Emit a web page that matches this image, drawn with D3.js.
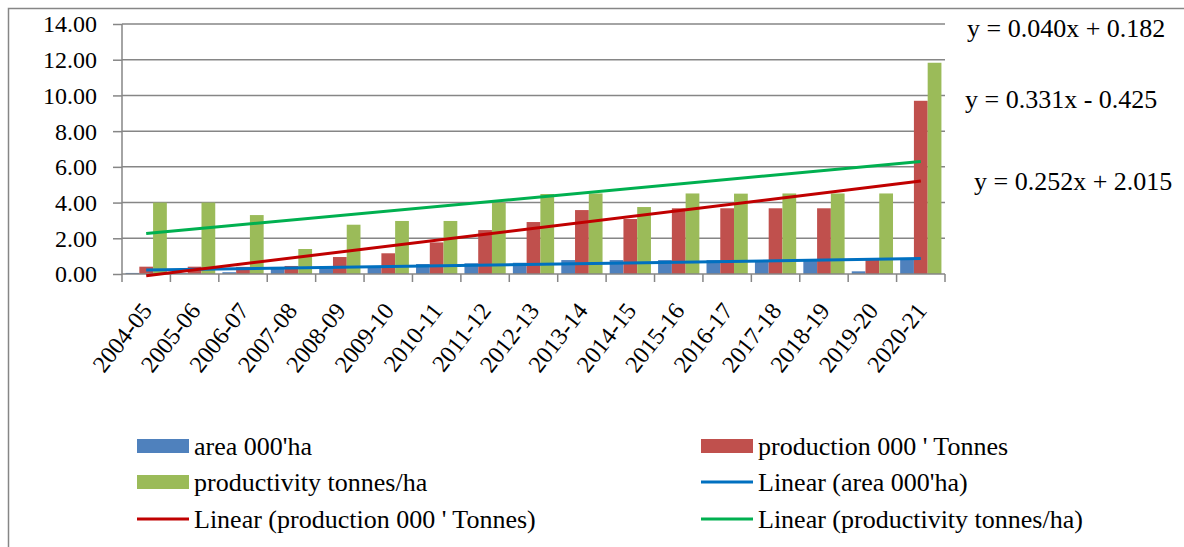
<!DOCTYPE html>
<html>
<head>
<meta charset="utf-8">
<script src="https://cdn.jsdelivr.net/npm/d3@7"></script>
<style>
html,body{margin:0;padding:0;background:#fff;}
svg{display:block;font-family:"Liberation Serif","Times New Roman",serif;}
</style>
</head>
<body>
<svg id="chart" width="1184" height="547"></svg>
<script>
const categories = ["2004-05","2005-06","2006-07","2007-08","2008-09","2009-10","2010-11","2011-12","2012-13","2013-14","2014-15","2015-16","2016-17","2017-18","2018-19","2019-20","2020-21"];
const area = [0.06,0.05,0.10,0.33,0.38,0.45,0.56,0.60,0.63,0.78,0.78,0.78,0.78,0.78,0.78,0.15,0.86];
const production = [0.41,0.41,0.40,0.45,0.95,1.16,1.77,2.46,2.91,3.58,3.08,3.68,3.68,3.68,3.68,0.85,9.70];
const productivity = [4.00,4.00,3.30,1.40,2.76,2.97,2.97,4.00,4.48,4.51,3.75,4.51,4.50,4.51,4.51,4.51,11.83];
const seriesNames = ["area 000'ha","production 000 ' Tonnes","productivity tonnes/ha"];
const trendSlopes = [0.040,0.331,0.252];
const trendIntercepts = [0.182,-0.425,2.015];
const trendLabels = ["y = 0.040x + 0.182","y = 0.331x - 0.425","y = 0.252x + 2.015"];
const yTicks = [0,2,4,6,8,10,12,14];

(function(){
const barColors = ["#4F81BD","#C0504D","#9BBB59"];
const lineColors = ["#0070C0","#C00000","#00B050"];
const grid = "#868686";

const svg = d3.select("#chart");
const pL = 122, pR = 945, pT = 24, pB = 274;

// outer border
svg.append("rect").attr("x",8.5).attr("y",8.5).attr("width",1300).attr("height",700)
  .attr("fill","none").attr("stroke",grid).attr("stroke-width",1.5);

const x = d3.scaleBand().domain(categories).range([pL,pR]).paddingInner(0).paddingOuter(0);
const y = d3.scaleLinear().domain([0,14]).range([pB,pT]);
const xs = d3.scaleBand().domain([0,1,2]).range([0,x.bandwidth()]).paddingInner(0).paddingOuter(0.26);

// gridlines
svg.append("g").selectAll("line").data(yTicks.filter(d=>d>0)).join("line")
  .attr("x1",pL).attr("x2",pR).attr("y1",d=>y(d)).attr("y2",d=>y(d))
  .attr("stroke",grid).attr("stroke-width",1.5);

// y axis
const yAxis = d3.axisLeft(y).tickValues(yTicks).tickFormat(d3.format(".2f")).tickSize(9).tickPadding(16);
const gy = svg.append("g").attr("transform",`translate(${pL},0)`).call(yAxis)
  .attr("font-family","Liberation Serif").attr("font-size",24);
gy.select(".domain").attr("stroke",grid).attr("stroke-width",1.5).attr("d",`M0,${pT}V${pB}`);
gy.selectAll(".tick line").attr("stroke",grid).attr("stroke-width",1.5);
gy.selectAll(".tick text").attr("fill","#000").attr("dy","0.33em");

// bars
const data = [area,production,productivity];
const gb = svg.append("g");
data.forEach((arr,si)=>{
  gb.selectAll(null).data(arr).join("rect")
    .attr("x",(d,i)=>x(categories[i])+xs(si))
    .attr("width",xs.bandwidth())
    .attr("y",d=>y(d))
    .attr("height",d=>y(0)-y(d))
    .attr("fill",barColors[si]);
});

// x axis
const gx = svg.append("g").attr("transform",`translate(0,${pB})`);
gx.append("line").attr("x1",pL).attr("x2",pR).attr("y1",0).attr("y2",0).attr("stroke",grid).attr("stroke-width",1.5);
const bounds = categories.map(c=>x(c)).concat([pR]);
gx.selectAll(".tk").data(bounds).join("line").attr("class","tk")
  .attr("x1",d=>d).attr("x2",d=>d).attr("y1",0).attr("y2",8).attr("stroke",grid).attr("stroke-width",1.5);
gx.selectAll(".lbl").data(categories).join("text").attr("class","lbl")
  .attr("transform",d=>`translate(${x(d)+x.bandwidth()/2+7},${37}) rotate(-52)`)
  .attr("text-anchor","end").attr("font-size",24).attr("fill","#000").text(d=>d);

// trend lines
const xi = d3.scaleLinear().domain([1,categories.length]).range([x(categories[0])+x.bandwidth()/2, x(categories[categories.length-1])+x.bandwidth()/2]);
trendSlopes.forEach((m,si)=>{
  const b = trendIntercepts[si];
  const pts = [1,categories.length].map(t=>[xi(t), y(m*t+b)]);
  svg.append("path").attr("d",d3.line()(pts)).attr("stroke",lineColors[si]).attr("stroke-width",3).attr("fill","none");
});

// equation labels
const eqPos = [[967,37],[965,108],[974,190]];
svg.append("g").selectAll("text").data(trendLabels).join("text")
  .attr("x",(d,i)=>eqPos[i][0]).attr("y",(d,i)=>eqPos[i][1])
  .attr("font-size",26).attr("fill","#000").text(d=>d);

// legend
const legendItems = [
  {name:seriesNames[0], type:"bar", color:barColors[0]},
  {name:seriesNames[1], type:"bar", color:barColors[1]},
  {name:seriesNames[2], type:"bar", color:barColors[2]},
  {name:"Linear ("+seriesNames[0]+")", type:"line", color:lineColors[0]},
  {name:"Linear ("+seriesNames[1]+")", type:"line", color:lineColors[1]},
  {name:"Linear ("+seriesNames[2]+")", type:"line", color:lineColors[2]}
];
const colX = [137,701], rowY = [446,482,519];
const lg = svg.append("g");
legendItems.forEach((it,i)=>{
  const cx = colX[i%2], cy = rowY[Math.floor(i/2)];
  if(it.type==="bar"){
    lg.append("rect").attr("x",cx).attr("y",cy-7).attr("width",52).attr("height",14).attr("fill",it.color);
  } else {
    lg.append("line").attr("x1",cx).attr("x2",cx+52).attr("y1",cy).attr("y2",cy).attr("stroke",it.color).attr("stroke-width",3);
  }
  lg.append("text").attr("x",cx+57).attr("y",cy+9).attr("font-size",26).attr("fill","#000").text(it.name);
});
})();
</script>
</body>
</html>
